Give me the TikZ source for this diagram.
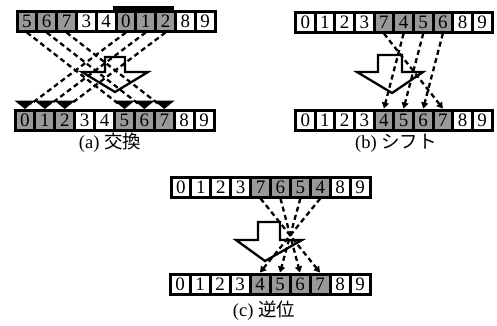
\documentclass[tikz,border=0pt]{standalone}
\usepackage{fontspec}
\setmainfont{Liberation Serif}
\newfontfamily\cjk{Noto Sans CJK JP}
\usetikzlibrary{arrows.meta}

\tikzset{
  cellbox/.style={draw, line width=3pt, minimum height=20pt, inner sep=0pt,
    font=\fontsize{19}{19}\selectfont},
  shd/.style={fill=black!40},
  pln/.style={fill=white},
  link/.style={line width=2.3pt, dash pattern=on 5pt off 3.5pt},
  tipped/.style={link, -{Triangle[width=7pt,length=6pt]}},
  blockarrow/.style={line width=2.3pt, line join=miter},
  caption/.style={font=\fontsize{18.5}{18.5}\selectfont},
}

% a row of ten cells: name prefix, left x, top y, cell width, digit/style list
\newcommand\cellrow[5]{%
  \foreach \d/\k [count=\i from 0] in {#5} {
    \node[cellbox, \k, minimum width=#4pt] (#1\i) at ({#2+#4*(\i+0.5)}, {#3+10}) {\d};
  }}

% flat wide arrowhead that sits on top of a cell
\newcommand\flathead[1]{%
  \fill ([xshift=-10.5pt,yshift=8pt]#1.north) -- ([xshift=10.5pt,yshift=8pt]#1.north)
        -- ([yshift=-0.5pt]#1.north) -- cycle;}

\begin{document}
\begin{tikzpicture}[x=1pt, y=-1pt]
\useasboundingbox (0,0) rectangle (497,325);

% ---------- (a) exchange ----------
\fill (113,6) rectangle (174,11);
\cellrow{at}{17}{11}{19.8}{5/shd,6/shd,7/shd,3/pln,4/pln,0/shd,1/shd,2/shd,8/pln,9/pln}
\cellrow{ab}{15}{110}{19.9}{0/shd,1/shd,2/shd,3/pln,4/pln,5/shd,6/shd,7/shd,8/pln,9/pln}
\draw[blockarrow] (105,57) -- (125,57) -- (125,72) -- (148,72) -- (115,92)
  -- (82,72) -- (105,72) -- cycle;
\foreach \i/\j in {0/5,1/6,2/7,5/0,6/1,7/2} {
  \draw[link, shorten >=7pt] (at\i.south) -- (ab\j.north);
  \flathead{ab\j}
}
\node[caption] (capa) at (110,143) {(a) {\cjk 交換}};

% ---------- (b) shift ----------
\cellrow{bt}{295.5}{12}{19.65}{0/pln,1/pln,2/pln,3/pln,7/shd,4/shd,5/shd,6/shd,8/pln,9/pln}
\cellrow{bb}{295.5}{110}{19.65}{0/pln,1/pln,2/pln,3/pln,4/shd,5/shd,6/shd,7/shd,8/pln,9/pln}
\draw[blockarrow] (378,55) -- (402,55) -- (402,72) -- (423,72) -- (392,93)
  -- (357,72) -- (378,72) -- cycle;
\foreach \i/\j in {4/7,5/4,6/5,7/6}
  \draw[tipped] (bt\i.south) -- (bb\j.north);
\node[caption] (capb) at (396,143) {(b) {\cjk シフト}};

% ---------- (c) inversion ----------
\cellrow{ct}{171}{177}{19.9}{0/pln,1/pln,2/pln,3/pln,7/shd,6/shd,5/shd,4/shd,8/pln,9/pln}
\cellrow{cb}{170}{274}{20}{0/pln,1/pln,2/pln,3/pln,4/shd,5/shd,6/shd,7/shd,8/pln,9/pln}
\draw[blockarrow] (258,222) -- (280,222) -- (280,240) -- (302,240) -- (265,261)
  -- (236,240) -- (258,240) -- cycle;
\foreach \i/\j in {4/7,5/6,6/5,7/4}
  \draw[tipped] (ct\i.south) -- (cb\j.north);
\node[caption] (capc) at (264,311) {(c) {\cjk 逆位}};
\end{tikzpicture}
\end{document}
